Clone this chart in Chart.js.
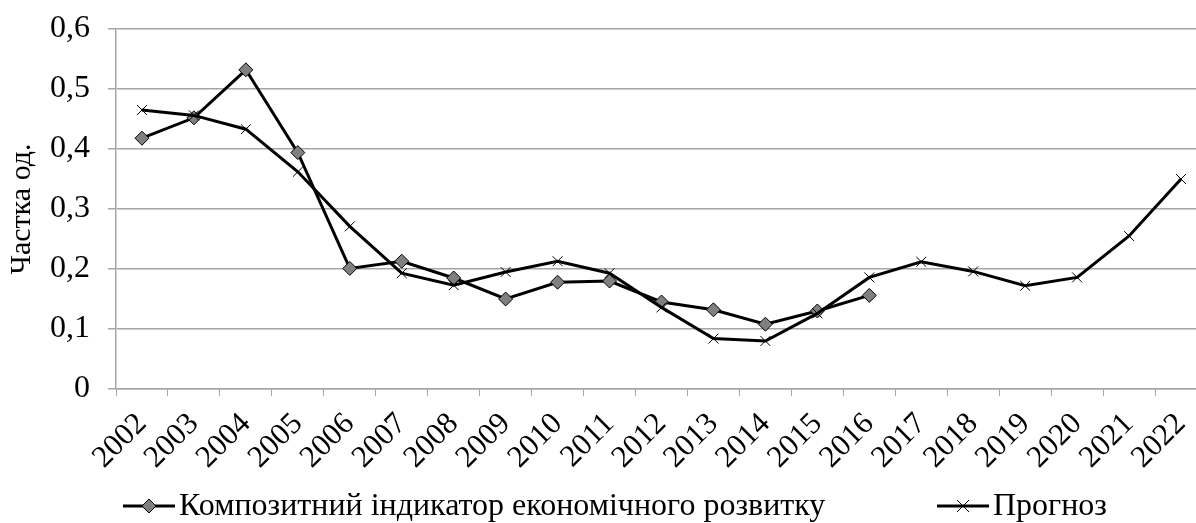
<!DOCTYPE html>
<html>
<head>
<meta charset="utf-8">
<script src="https://cdn.jsdelivr.net/npm/chart.js@4.4.0/dist/chart.umd.min.js"></script>
<style>
html,body{margin:0;padding:0;background:#fff;overflow:hidden;}
#wrap{width:1215px;height:523px;position:relative;}
</style>
</head>
<body>
<div id="wrap"><canvas id="c" width="1215" height="523"></canvas></div>
<script>
const categories = ['2002','2003','2004','2005','2006','2007','2008','2009','2010','2011','2012','2013','2014','2015','2016','2017','2018','2019','2020','2021','2022'];
const compositeValues = [0.418,0.452,0.532,0.394,0.201,0.213,0.185,0.150,0.178,0.180,0.145,0.132,0.108,0.130,0.156,null,null,null,null,null,null];
const forecastValues = [0.465,0.456,0.433,0.362,0.271,0.193,0.173,0.195,0.213,0.193,0.136,0.084,0.080,0.126,0.186,0.212,0.196,0.172,0.186,0.255,0.350];
const yTicks = [0,0.1,0.2,0.3,0.4,0.5,0.6];
const seriesNames = ['Композитний індикатор економічного розвитку','Прогноз'];
const yTitle = 'Частка од.';

const FONT = '"Liberation Serif","Times New Roman",serif';
const GRID = '#a6a6a6';

const legendPlugin = {
  id: 'customLegend',
  afterDraw(chart) {
    const ctx = chart.ctx;
    const y = 506;
    ctx.save();
    ctx.font = '32px ' + FONT;
    ctx.fillStyle = '#000';
    ctx.textBaseline = 'middle';
    ctx.textAlign = 'left';
    // item 1
    ctx.strokeStyle = '#000'; ctx.lineWidth = 3;
    ctx.beginPath(); ctx.moveTo(123, y); ctx.lineTo(175, y); ctx.stroke();
    ctx.beginPath();
    ctx.moveTo(149, y - 7); ctx.lineTo(156, y); ctx.lineTo(149, y + 7); ctx.lineTo(142, y); ctx.closePath();
    ctx.fillStyle = '#808080'; ctx.fill();
    ctx.lineWidth = 1; ctx.stroke();
    ctx.fillStyle = '#000';
    ctx.fillText(seriesNames[0], 179, y + 1);
    // item 2
    ctx.lineWidth = 3;
    ctx.beginPath(); ctx.moveTo(937, y); ctx.lineTo(989, y); ctx.stroke();
    ctx.lineWidth = 1;
    ctx.beginPath();
    ctx.moveTo(957, y - 6); ctx.lineTo(969, y + 6);
    ctx.moveTo(969, y - 6); ctx.lineTo(957, y + 6);
    ctx.stroke();
    ctx.fillText(seriesNames[1], 993, y + 1);
    ctx.restore();
  }
};

new Chart(document.getElementById('c'), {
  type: 'line',
  data: {
    labels: categories,
    datasets: [
      {
        label: seriesNames[1],
        data: forecastValues,
        borderColor: '#000',
        borderWidth: 3,
        pointStyle: 'crossRot',
        pointRadius: 7,
        pointBorderWidth: 1,
        pointBorderColor: '#000',
        pointBackgroundColor: '#000',
        tension: 0,
        fill: false
      },
      {
        label: seriesNames[0],
        data: compositeValues,
        borderColor: '#000',
        borderWidth: 3,
        pointStyle: 'rectRot',
        pointRadius: 7,
        pointBorderWidth: 1,
        pointBorderColor: '#000',
        pointBackgroundColor: '#808080',
        tension: 0,
        fill: false,
        spanGaps: false
      }
    ]
  },
  options: {
    responsive: false,
    animation: false,
    events: [],
    layout: { padding: { top: 29, left: 0, right: 0, bottom: 0 } },
    plugins: { legend: { display: false }, tooltip: { enabled: false } },
    scales: {
      x: {
        type: 'category',
        offset: true,
        grid: { display: true, drawOnChartArea: false, drawTicks: true, tickLength: 7, color: GRID, offset: true },
        border: { display: true, color: GRID, width: 1.5 },
        ticks: {
          autoSkip: false, minRotation: 45, maxRotation: 45,
          font: { family: FONT, size: 31 }, color: '#000', padding: 10
        },
        afterFit(s) { s.height = 134; s.paddingLeft = 0; s.paddingRight = 0; }
      },
      y: {
        min: 0, max: 0.6,
        afterBuildTicks(s) { s.ticks = yTicks.map(v => ({ value: v })); },
        grid: { color: GRID, lineWidth: 1.5, tickLength: 8, drawTicks: true },
        border: { display: true, color: GRID, width: 1.5 },
        ticks: {
          font: { family: FONT, size: 32 }, color: '#000', padding: 18,
          callback(v) { return v === 0 ? '0' : v.toFixed(1).replace('.', ','); }
        },
        title: {
          display: true, text: yTitle, color: '#000',
          font: { family: FONT, size: 30 }, padding: { top: 4, bottom: 0 }
        },
        afterFit(s) { s.width = 116; s.paddingTop = 0; s.paddingBottom = 0; }
      }
    }
  },
  plugins: [legendPlugin]
});
</script>
</body>
</html>
